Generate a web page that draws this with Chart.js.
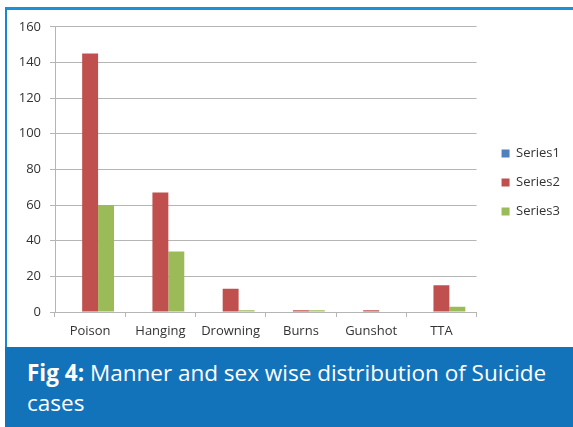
<!DOCTYPE html>
<html>
<head>
<meta charset="utf-8">
<script src="https://cdn.jsdelivr.net/npm/chart.js@4/dist/chart.umd.min.js"></script>
<style>
  html, body { margin: 0; padding: 0; background: #fff; }
  body { width: 573px; height: 427px; position: relative; overflow: hidden; font-family: "Open Sans", sans-serif; }
  #frame { position: absolute; left: 5px; top: 7px; right: 0; bottom: 0; border-left: 2px solid #1a86cf; border-top: 3px solid #1b91d9; }
  #chartBox { position: absolute; left: 7px; top: 10px; width: 566px; height: 337px; }
  #caption { position: absolute; left: 5px; top: 347px; right: 0; bottom: 0; background: #1273bb; color: #fff;
             font-size: 22.5px; line-height: 30px; padding: 11px 0 0 22px; }
  #caption b { font-weight: 700; }
</style>
</head>
<body>
<div id="frame"></div>
<div id="chartBox"><canvas id="chart" width="566" height="337"></canvas></div>
<div id="caption"><b>Fig 4:</b> Manner and sex wise distribution of Suicide<br>cases</div>
<script>
const categories = ['Poison', 'Hanging', 'Drowning', 'Burns', 'Gunshot', 'TTA'];
const series1 = [0, 0, 0, 0, 0, 0];
const series2 = [145, 67, 13, 1, 1, 15];
const series3 = [60, 34, 1, 1, 0, 3];
const yTicks = [0, 20, 40, 60, 80, 100, 120, 140, 160];

const gridColor = '#b5b5b5';
const textColor = '#333333';
const font = { family: '"Open Sans", sans-serif', size: 13 };

function bars(label, data, color) {
    return {
        label, data,
        backgroundColor: color,
        borderWidth: 0,
        categoryPercentage: 0.68,
        barPercentage: 1.0
    };
}

// nudge the legend a bit away from the plot, like the Excel original
const legendNudge = {
    id: 'legendNudge',
    afterLayout(chart) {
        if (!chart.legend) return;
        chart.legend.left += 9;
        chart.legend.right += 9;
        chart.legend.top -= 4;
        chart.legend.bottom -= 4;
    }
};

new Chart(document.getElementById('chart'), {
    type: 'bar',
    data: {
        labels: categories,
        datasets: [
            bars('Series1', series1, '#4f81bd'),
            bars('Series2', series2, '#c0504d'),
            bars('Series3', series3, '#9bbb59')
        ]
    },
    plugins: [legendNudge],
    options: {
        responsive: false,
        animation: false,
        devicePixelRatio: 1,
        layout: { padding: { top: 16, right: 12, bottom: 0, left: 0 } },
        plugins: {
            tooltip: { enabled: false },
            legend: {
                position: 'right',
                labels: { boxWidth: 8, boxHeight: 8, padding: 16, color: textColor, font }
            }
        },
        scales: {
            x: {
                grid: { display: true, drawOnChartArea: false, drawTicks: true, tickLength: 5, color: gridColor, offset: true },
                border: { color: gridColor },
                ticks: { color: textColor, font, padding: 6 },
                afterFit: s => { s.height = 35; }
            },
            y: {
                min: 0, max: 160,
                afterBuildTicks: s => { s.ticks = yTicks.map(v => ({ value: v })); },
                grid: { color: gridColor, tickLength: 5 },
                border: { color: gridColor },
                ticks: { color: textColor, font, padding: 9 },
                afterFit: s => { s.width = 48; }
            }
        }
    }
});
</script>
</body>
</html>
